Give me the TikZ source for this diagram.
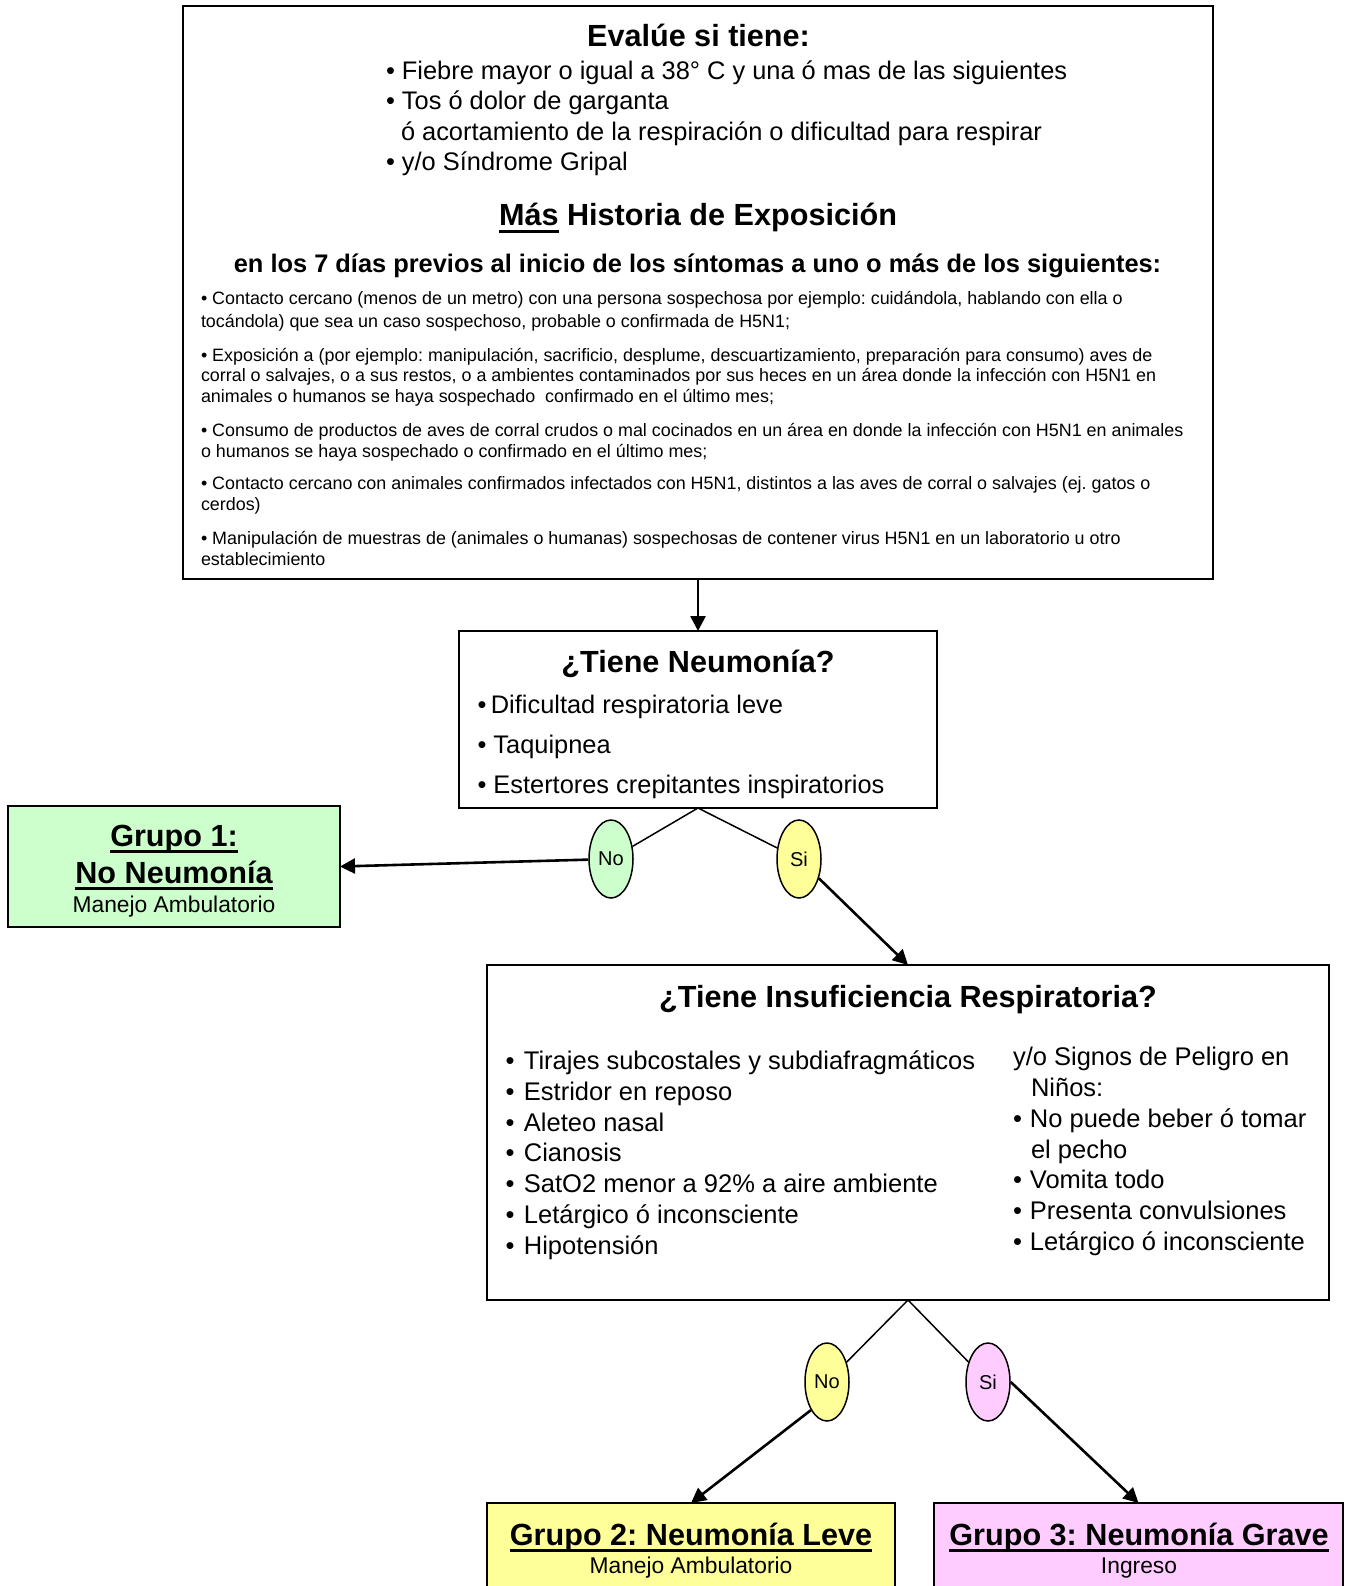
\documentclass[tikz,border=0pt]{standalone}
\usepackage{fontspec}
\setmainfont{Liberation Sans}
\usetikzlibrary{shapes.geometric,arrows.meta}
\frenchspacing
\newsavebox{\ulbox}
\newcommand{\myul}[1]{\sbox{\ulbox}{#1}\rlap{\rule[-6.7pt]{\wd\ulbox}{2.7pt}}\usebox{\ulbox}}
\definecolor{gfill}{HTML}{CCFFCC}
\definecolor{yfill}{HTML}{FFFF99}
\definecolor{pfill}{HTML}{FFCCFF}
\tikzset{
  box/.style={draw=black, line width=2pt, inner sep=0pt, outer sep=0pt},
  txt/.style={inner sep=0pt, outer sep=0pt, anchor=base west},
  ctxt/.style={inner sep=0pt, outer sep=0pt, anchor=base},
  big/.style={font=\fontsize{30.6}{36}\selectfont\bfseries},
  med/.style={font=\fontsize{25.4}{30}\selectfont},
  medb/.style={font=\fontsize{25.4}{30}\selectfont\bfseries},
  ins/.style={font=\fontsize{25.5}{31}\selectfont},
  sml/.style={font=\fontsize{17.9}{21}\selectfont},
  sub/.style={font=\fontsize{22.8}{27}\selectfont},
  lbl/.style={ellipse, draw=black, line width=1.5pt, minimum width=44pt, minimum height=78pt, inner sep=0pt, font=\fontsize{20}{24}\selectfont},
  thinline/.style={draw=black, line width=1.5pt},
  arr/.style={draw=black, line width=2.6pt, -{Triangle[length=15pt,width=15pt]}, shorten >=0pt}
}
\begin{document}
\begin{tikzpicture}[x=1pt,y=-1pt]
\useasboundingbox (0,0) rectangle (1345,1586);
\fill[white] (0,0) rectangle (1345,1586);

% ---- boxes ----
\node[box, minimum width=1030pt, minimum height=573pt] (top) at (698,292.5) {};
\node[box, minimum width=478pt, minimum height=177pt] (neu) at (698,719.5) {};
\node[box, fill=gfill, minimum width=332pt, minimum height=121pt] (g1) at (174,866.5) {};
\node[box, minimum width=842pt, minimum height=335pt] (ins) at (908,1132.5) {};
\node[box, fill=yfill, minimum width=408pt, minimum height=140pt] (g2) at (691,1573) {};
\node[box, fill=pfill, minimum width=409pt, minimum height=140pt] (g3) at (1138.5,1573) {};

% ---- top box text ----
\node[ctxt, big] (t1) at (698.5,47) {Evalúe si tiene:};
\node[txt, med] (t2) at (386,79.5) {• Fiebre mayor o igual a 38° C y una ó mas de las siguientes};
\node[txt, med] (t3) at (386,110) {• Tos ó dolor de garganta};
\node[txt, med] (t4) at (401,140.5) {ó acortamiento de la respiración o dificultad para respirar};
\node[txt, med] (t5) at (386,171) {• y/o Síndrome Gripal};
\node[ctxt, big] (t6) at (698,226) {\myul{Más} Historia de Exposición};
\node[ctxt, medb] (t7) at (697.5,273) {en los 7 días previos al inicio de los síntomas a uno o más de los siguientes:};

\node[txt, sml] (s1) at (201,305) {• Contacto cercano (menos de un metro) con una persona sospechosa por ejemplo: cuidándola, hablando con ella o};
\node[txt, sml] (s2) at (201,327) {tocándola) que sea un caso sospechoso, probable o confirmada de H5N1;};
\node[txt, sml] (s3) at (201,361) {• Exposición a (por ejemplo: manipulación, sacrificio, desplume, descuartizamiento, preparación para consumo) aves de};
\node[txt, sml] (s4) at (201,381.5) {corral o salvajes, o a sus restos, o a ambientes contaminados por sus heces en un área donde la infección con H5N1 en};
\node[txt, sml] (s5) at (201,402) {animales o humanos se haya sospechado~ confirmado en el último mes;};
\node[txt, sml] (s6) at (201,436) {• Consumo de productos de aves de corral crudos o mal cocinados en un área en donde la infección con H5N1 en animales};
\node[txt, sml] (s7) at (201,457) {o humanos se haya sospechado o confirmado en el último mes;};
\node[txt, sml] (s8) at (201,489) {• Contacto cercano con animales confirmados infectados con H5N1, distintos a las aves de corral o salvajes (ej. gatos o};
\node[txt, sml] (s9) at (201,510.5) {cerdos)};
\node[txt, sml] (s10) at (201,544) {• Manipulación de muestras de (animales o humanas) sospechosas de contener virus H5N1 en un laboratorio u otro};
\node[txt, sml] (s11) at (201,565) {establecimiento};

% ---- neumonia box text ----
\node[ctxt, big] (n1) at (698,672.5) {¿Tiene Neumonía?};
\node[txt, med] (n2) at (477.5,713) {•\hspace{4.5pt}Dificultad respiratoria leve};
\node[txt, med] (n3) at (477.5,753) {• Taquipnea};
\node[txt, med] (n4) at (477.5,793) {• Estertores crepitantes inspiratorios};

% ---- grupo 1 ----
\node[ctxt, big] (a1) at (174,846) {\myul{Grupo 1:}};
\node[ctxt, big] (a2) at (174,883) {\myul{No Neumonía}};
\node[ctxt, sub] (a3) at (174,912) {Manejo Ambulatorio};

% ---- insuficiencia box text ----
\node[ctxt, big] (i0) at (908,1007) {¿Tiene Insuficiencia Respiratoria?};
\node[txt, ins] (l1) at (505.5,1069) {•\hspace{9.5pt}Tirajes subcostales y subdiafragmáticos};
\node[txt, ins] (l2) at (505.5,1100) {•\hspace{9.5pt}Estridor en reposo};
\node[txt, ins] (l3) at (505.5,1131) {•\hspace{9.5pt}Aleteo nasal};
\node[txt, ins] (l4) at (505.5,1161.5) {•\hspace{9.5pt}Cianosis};
\node[txt, ins] (l5) at (505.5,1192.5) {•\hspace{9.5pt}SatO2 menor a 92\% a aire ambiente};
\node[txt, ins] (l6) at (505.5,1223) {•\hspace{9.5pt}Letárgico ó inconsciente};
\node[txt, ins] (l7) at (505.5,1254) {•\hspace{9.5pt}Hipotensión};
\node[txt, ins] (r1) at (1013,1065) {y/o Signos de Peligro en};
\node[txt, ins] (r2) at (1031,1096.5) {Niños:};
\node[txt, ins] (r3) at (1013,1127) {•\hspace{8pt}No puede beber ó tomar};
\node[txt, ins] (r4) at (1031,1158) {el pecho};
\node[txt, ins] (r5) at (1013,1188.5) {•\hspace{8pt}Vomita todo};
\node[txt, ins] (r6) at (1013,1219) {•\hspace{8pt}Presenta convulsiones};
\node[txt, ins] (r7) at (1013,1250) {•\hspace{8pt}Letárgico ó inconsciente};

% ---- grupo 2 / 3 ----
\node[ctxt, big] (b1) at (691,1545) {\myul{Grupo 2: Neumonía Leve}};
\node[ctxt, sub] (b2) at (691,1573.5) {Manejo Ambulatorio};
\node[ctxt, big] (c1) at (1139,1545) {\myul{Grupo 3: Neumonía Grave}};
\node[ctxt, sub] (c2) at (1139,1573.5) {Ingreso};

% ---- decision labels ----
\node[lbl, fill=gfill] (no1) at (611,859) {No};
\node[lbl, fill=yfill] (si1) at (799,859) {Si};
\node[lbl, fill=yfill] (no2) at (827,1382) {No};
\node[lbl, fill=pfill] (si2) at (988,1382) {Si};

% ---- connectors ----
\draw[arr] (top.south) -- (neu.north);
\draw[thinline] (neu.south) -- (no1);
\draw[thinline] (neu.south) -- (si1);
\draw[arr] (no1) -- (g1.east);
\draw[arr] (si1) -- (ins.north);
\draw[thinline] (ins.south) -- (no2);
\draw[thinline] (ins.south) -- (si2);
\draw[arr] (no2.south west) -- (g2.north);
\draw[arr] (si2.east) -- (g3.north);
\end{tikzpicture}
\end{document}
